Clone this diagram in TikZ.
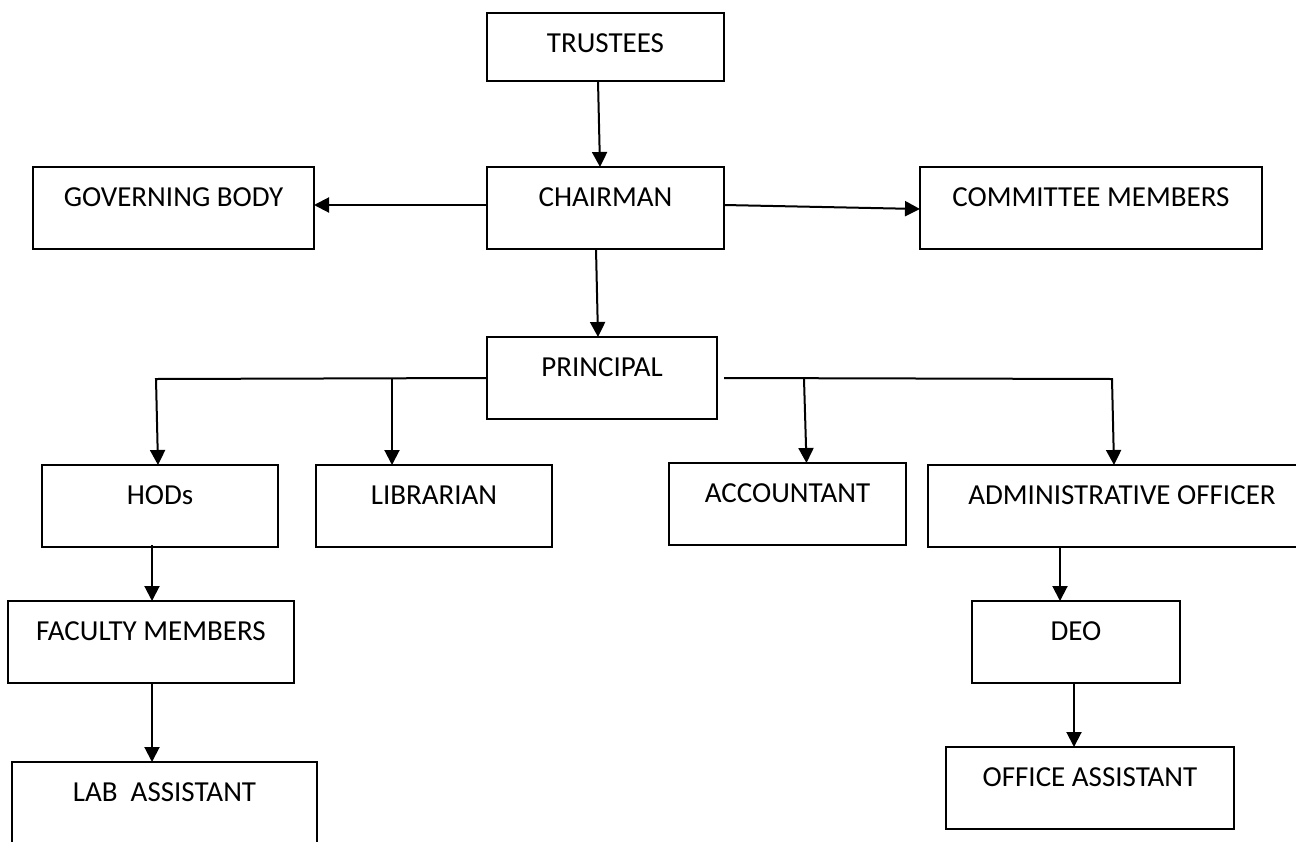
\documentclass[tikz,border=0pt]{standalone}
\usepackage{fontspec}
\setmainfont{Carlito}
\usetikzlibrary{arrows.meta}
\tikzset{
  box/.style n args={2}{draw, line width=2.5pt, inner sep=0pt, outer sep=0pt,
    anchor=north west, minimum width=#1, text height=39pt, text depth=#2,
    font=\fontsize{29}{35}\selectfont},
  stdbox/.style={box={#1}{43pt}},
  arr/.style={line width=2pt, -{Triangle[length=15pt,width=15pt]}},
  ln/.style={line width=2pt}
}
\begin{document}
\begin{tikzpicture}[x=1pt,y=-1pt]
\fill[white] (0,0) rectangle (1296,841);
\useasboundingbox (0,0) rectangle (1296,841);
\begin{scope}
\clip (0,0) rectangle (1296,841);
% boxes
\node[box={237pt}{29pt}] (tr) at (487,13) {TRUSTEES};
\node[stdbox=237pt] (ch) at (487,167) {CHAIRMAN};
\node[stdbox=281pt] (gb) at (33,167) {GOVERNING BODY};
\node[stdbox=342pt] (cm) at (920,167) {COMMITTEE MEMBERS};
\node[stdbox=230pt] (pr) at (487,337) {PRINCIPAL};
\node[stdbox=236pt] (hod) at (42,465) {HODs};
\node[stdbox=236pt] (lib) at (316,465) {LIBRARIAN};
\node[stdbox=237pt] (acc) at (669,463) {ACCOUNTANT};
\node[stdbox=388pt] (ad) at (928,465) {ADMINISTRATIVE OFFICER};
\node[stdbox=286pt] (fac) at (8,601) {FACULTY MEMBERS};
\node[stdbox=305pt] (lab) at (12,762) {LAB\ \ ASSISTANT};
\node[stdbox=208pt] (deo) at (972,601) {DEO};
\node[stdbox=288pt] (of) at (946,747) {OFFICE ASSISTANT};
% junctions
\coordinate (jl) at (156,379);
\coordinate (jlib) at (392,379);
\coordinate (jacc) at (804,379);
\coordinate (jr) at (1112,379);
% connectors
\draw[arr] ([xshift=-7.5pt]tr.south) -- ([xshift=-5.5pt]ch.north);
\draw[arr] ([yshift=3pt]ch.west) -- ([yshift=3pt]gb.east);
\draw[arr] ([yshift=3pt]ch.east) -- ([yshift=-1pt]cm.west);
\draw[arr] ([xshift=-9.5pt]ch.south) -- ([xshift=-4pt]pr.north);
\draw[arr] (pr.west) -- (jl) -- ([xshift=-2pt]hod.north);
\draw[arr] (jlib) -- ([xshift=-42pt]lib.north);
\draw[arr] ([xshift=7pt]pr.east) -- (jr) -- ([xshift=-8pt]ad.north);
\draw[arr] (jacc) -- ([xshift=19pt]acc.north);
\draw[arr] ([xshift=-8pt,yshift=2pt]hod.south) -- ([xshift=1pt]fac.north);
\draw[arr] ([xshift=1pt]fac.south) -- ([xshift=-12.5pt]lab.north);
\draw[arr] ([xshift=-62pt,yshift=1pt]ad.south) -- ([xshift=-16pt]deo.north);
\draw[arr] ([xshift=-2pt]deo.south) -- ([xshift=-16pt]of.north);
\end{scope}
\end{tikzpicture}
\end{document}
